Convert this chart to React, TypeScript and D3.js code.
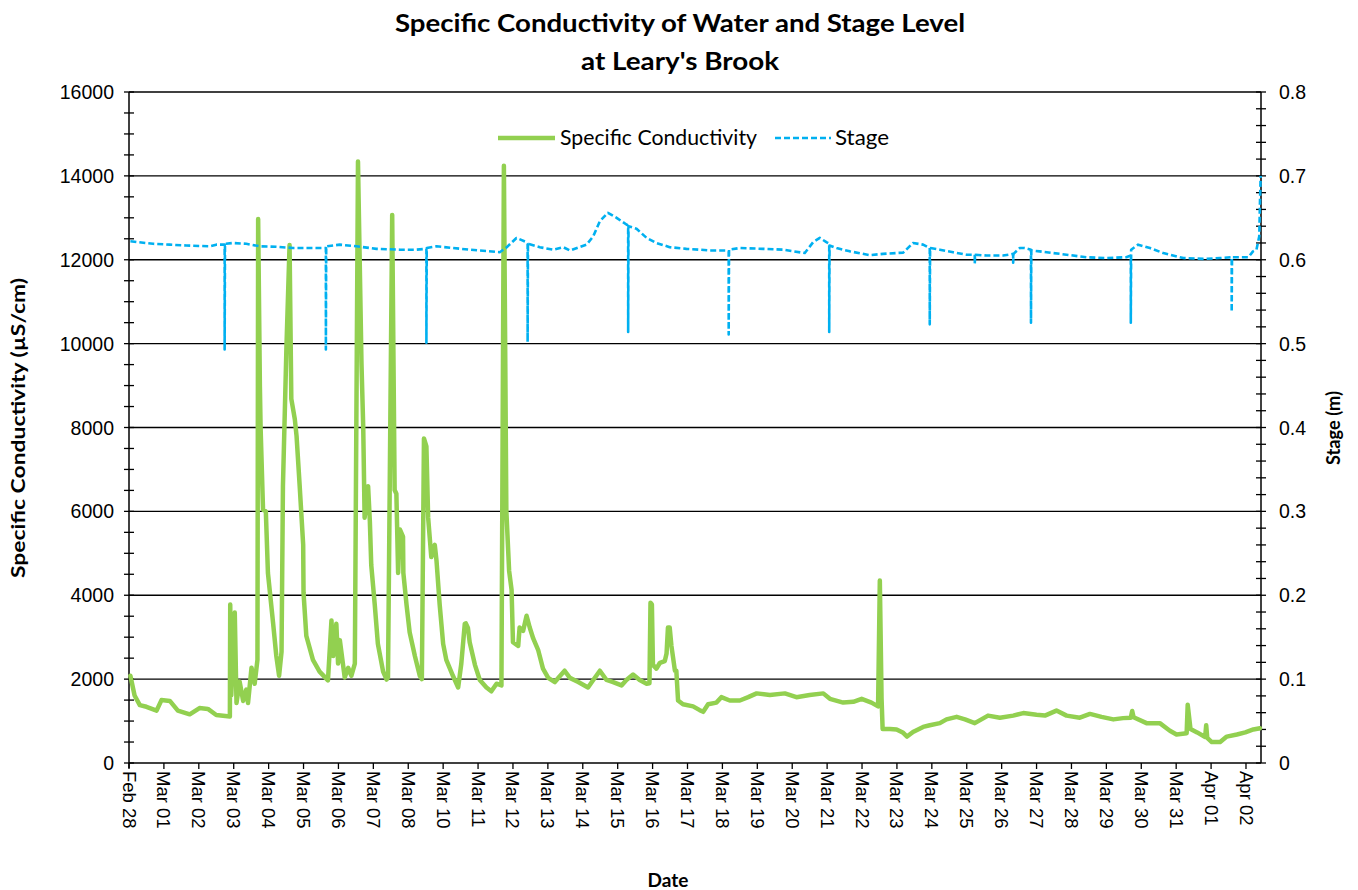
import React from 'react';
import * as d3 from 'd3';

// category labels shown on the x axis (one per day position, Mar 09 is not labelled)
const dateLabels = [
  'Feb 28', 'Mar 01', 'Mar 02', 'Mar 03', 'Mar 04', 'Mar 05', 'Mar 06', 'Mar 07', 'Mar 08',
  'Mar 10', 'Mar 11', 'Mar 12', 'Mar 13', 'Mar 14', 'Mar 15', 'Mar 16', 'Mar 17', 'Mar 18',
  'Mar 19', 'Mar 20', 'Mar 21', 'Mar 22', 'Mar 23', 'Mar 24', 'Mar 25', 'Mar 26', 'Mar 27',
  'Mar 28', 'Mar 29', 'Mar 30', 'Mar 31', 'Apr 01', 'Apr 02',
];
const condTicks = [0, 2000, 4000, 6000, 8000, 10000, 12000, 14000, 16000];
const stageTicks = [0, 0.1, 0.2, 0.3, 0.4, 0.5, 0.6, 0.7, 0.8];

// [position in label units, µS/cm]
const conductivity: [number, number][] = [
  [0.04, 2080], [0.16, 1610], [0.31, 1380], [0.5, 1340], [0.79, 1250], [0.93, 1500], [1.17, 1480],
  [1.4, 1250], [1.74, 1160], [2.02, 1310], [2.26, 1290], [2.5, 1145], [2.89, 1110], [2.9, 3780],
  [2.93, 1610], [3.03, 3590], [3.08, 1430], [3.17, 1940], [3.27, 1480], [3.36, 1750], [3.41, 1430],
  [3.51, 2270], [3.6, 1890], [3.68, 2460], [3.7, 12970], [3.75, 8970], [3.77, 8000], [3.84, 6040],
  [3.92, 6000], [3.98, 4530], [4.13, 3320], [4.22, 2550], [4.3, 2080], [4.37, 2650], [4.41, 6600],
  [4.51, 9900], [4.6, 12350], [4.65, 8680], [4.75, 8200], [4.8, 7800], [4.89, 6600], [4.99, 5200],
  [5.0, 4060], [5.08, 3030], [5.27, 2460], [5.46, 2180], [5.7, 1970], [5.8, 3400], [5.85, 2550],
  [5.94, 3320], [5.99, 2370], [6.04, 2930], [6.18, 2040], [6.28, 2270], [6.37, 2080], [6.47, 2370],
  [6.56, 14340], [6.66, 9530], [6.71, 8020], [6.75, 5850], [6.85, 6600], [6.9, 5760], [6.94, 4720],
  [7.04, 3780], [7.13, 2840], [7.28, 2180], [7.38, 1990], [7.42, 2040], [7.54, 13070], [7.61, 6510],
  [7.66, 6420], [7.71, 4530], [7.76, 5570], [7.85, 5400], [7.86, 4530], [7.95, 3780], [8.04, 3120],
  [8.19, 2550], [8.33, 2080], [8.39, 2000], [8.45, 7740], [8.52, 7550], [8.57, 5850], [8.66, 4910],
  [8.76, 5200], [8.81, 4820], [8.9, 3780], [9.0, 2840], [9.09, 2460], [9.28, 2080], [9.43, 1800],
  [9.52, 2370], [9.62, 3320], [9.65, 3330], [9.71, 3220], [9.76, 2880], [9.91, 2340], [10.05, 1980],
  [10.24, 1800], [10.38, 1710], [10.53, 1890], [10.67, 1850], [10.74, 14240], [10.81, 6020],
  [10.89, 4580], [10.96, 4130], [11.0, 2880], [11.15, 2790], [11.19, 3230], [11.29, 3150],
  [11.39, 3510], [11.48, 3230], [11.58, 2970], [11.72, 2700], [11.86, 2250], [12.01, 2030],
  [12.2, 1930], [12.34, 2070], [12.48, 2200], [12.63, 2030], [12.87, 1930], [13.15, 1800],
  [13.3, 1980], [13.49, 2200], [13.68, 1980], [13.87, 1930], [14.11, 1850], [14.25, 1980],
  [14.44, 2110], [14.63, 1980], [14.83, 1890], [14.91, 1900], [14.94, 3820], [14.98, 3780],
  [15.01, 2340], [15.11, 2250], [15.21, 2390], [15.35, 2430], [15.4, 2610], [15.44, 3230],
  [15.49, 3230], [15.54, 2790], [15.64, 2200], [15.68, 2200], [15.73, 1490], [15.87, 1400],
  [16.16, 1350], [16.35, 1260], [16.45, 1220], [16.59, 1400], [16.83, 1440], [16.97, 1570],
  [17.21, 1490], [17.5, 1490], [17.74, 1570], [17.98, 1660], [18.36, 1620], [18.79, 1660],
  [19.12, 1570], [19.5, 1620], [19.89, 1660], [20.08, 1530], [20.46, 1440], [20.75, 1460],
  [20.99, 1530], [21.27, 1440], [21.46, 1350], [21.51, 4350], [21.56, 1530], [21.59, 810],
  [21.8, 810], [21.99, 800], [22.18, 720], [22.29, 630], [22.46, 740], [22.75, 860], [22.94, 900],
  [23.23, 950], [23.42, 1040], [23.71, 1100], [23.95, 1040], [24.23, 950], [24.61, 1130],
  [24.95, 1080], [25.33, 1130], [25.62, 1190], [26.0, 1150], [26.24, 1130], [26.57, 1250],
  [26.86, 1130], [27.24, 1080], [27.53, 1170], [27.86, 1100], [28.2, 1040], [28.48, 1070],
  [28.7, 1080], [28.74, 1240], [28.78, 1090], [29.15, 950], [29.53, 950], [29.82, 770],
  [30.01, 680], [30.3, 710], [30.33, 1390], [30.41, 810], [30.6, 730], [30.83, 620], [30.86, 900],
  [30.89, 600], [31.02, 500], [31.26, 500], [31.45, 630], [31.74, 680], [31.98, 730], [32.21, 800],
  [32.4, 830],
];

// [position in label units, m]
const stage: [number, number][] = [
  [0.04, 0.622], [0.69, 0.619], [1.17, 0.618], [1.64, 0.617], [2.31, 0.616], [2.5, 0.618],
  [2.74, 0.618], [2.74, 0.493], [2.75, 0.619], [2.98, 0.62], [3.36, 0.619], [3.75, 0.616],
  [4.22, 0.6155], [4.7, 0.614], [5.18, 0.614], [5.64, 0.614], [5.64, 0.493], [5.65, 0.616],
  [6.04, 0.618], [6.52, 0.616], [7.09, 0.613], [7.76, 0.612], [8.23, 0.612], [8.52, 0.613],
  [8.52, 0.501], [8.53, 0.614], [8.81, 0.616], [9.28, 0.614], [9.76, 0.612], [10.05, 0.611],
  [10.62, 0.609], [10.81, 0.6144], [11.1, 0.626], [11.39, 0.621], [11.42, 0.619], [11.42, 0.502],
  [11.43, 0.619], [11.77, 0.615], [12.15, 0.612], [12.44, 0.615], [12.63, 0.611], [13.11, 0.618],
  [13.3, 0.628], [13.49, 0.646], [13.72, 0.656], [13.97, 0.65], [14.25, 0.642], [14.3, 0.641],
  [14.3, 0.514], [14.31, 0.64], [14.54, 0.637], [14.83, 0.626], [15.11, 0.62], [15.49, 0.615],
  [15.97, 0.613], [16.35, 0.612], [16.64, 0.611], [17.12, 0.611], [17.18, 0.61], [17.18, 0.511],
  [17.19, 0.612], [17.5, 0.614], [18.17, 0.613], [18.74, 0.612], [19.36, 0.608], [19.6, 0.621],
  [19.79, 0.626], [19.98, 0.621], [20.06, 0.619], [20.06, 0.514], [20.07, 0.617], [20.27, 0.614],
  [20.65, 0.61], [21.22, 0.6055], [21.6, 0.607], [22.18, 0.6085], [22.46, 0.62], [22.75, 0.618],
  [22.89, 0.615], [22.94, 0.614], [22.94, 0.523], [22.95, 0.614], [23.23, 0.612], [23.61, 0.609],
  [23.99, 0.606], [24.23, 0.606], [24.23, 0.5955], [24.24, 0.606], [24.57, 0.605], [25.04, 0.605],
  [25.33, 0.607], [25.33, 0.5965], [25.34, 0.607], [25.52, 0.614], [25.66, 0.614], [25.84, 0.612],
  [25.84, 0.525], [25.85, 0.611], [26.09, 0.61], [26.67, 0.607], [27.43, 0.603], [28.0, 0.602],
  [28.57, 0.603], [28.7, 0.605], [28.7, 0.525], [28.71, 0.612], [28.91, 0.618], [29.25, 0.614],
  [29.63, 0.608], [30.21, 0.602], [30.78, 0.601], [31.25, 0.602], [31.59, 0.603], [31.59, 0.538],
  [31.6, 0.603], [31.83, 0.603], [32.07, 0.603], [32.2, 0.61], [32.3, 0.612], [32.38, 0.628],
  [32.4, 0.668], [32.42, 0.7],
];

const W = 1358;
const H = 890;
const left = 129;
const right = 1261;
const top = 92;
const bottom = 763;

const green = '#92D050';
const blue = '#00B0F0';
const labelFont = '"Liberation Sans", Arial, sans-serif';
const titleFont = 'Lato, "Open Sans", sans-serif';

export default function App() {
  const x = d3.scaleLinear().domain([0, 32.43]).range([left, right]);
  const yL = d3.scaleLinear().domain([0, 16000]).range([bottom, top]);
  const yR = d3.scaleLinear().domain([0, 0.8]).range([bottom, top]);

  const condLine = d3.line<[number, number]>().x(d => x(d[0])).y(d => yL(d[1]));
  const stageLine = d3.line<[number, number]>().x(d => x(d[0])).y(d => yR(d[1]));

  const minorL = yL.ticks(40);
  const minorR = yR.ticks(40);

  return (
    <svg width={W} height={H} style={{ position: 'absolute', left: 0, top: 0, background: '#fff' }}>
      {/* title */}
      <text x={680} y={32} textAnchor="middle" fontFamily={titleFont} fontWeight="bold" fontSize={25}
        textLength={570} lengthAdjust="spacingAndGlyphs">
        Specific Conductivity of Water and Stage Level
      </text>
      <text x={680} y={70} textAnchor="middle" fontFamily={titleFont} fontWeight="bold" fontSize={25}
        textLength={198} lengthAdjust="spacingAndGlyphs">
        at Leary's Brook
      </text>

      {/* gridlines */}
      {condTicks.filter(t => t > 0).map(t => (
        <line key={t} x1={left} x2={right} y1={yL(t)} y2={yL(t)} stroke="#000" strokeWidth={1.3} />
      ))}

      {/* left axis */}
      <line x1={left} x2={left} y1={top} y2={bottom + 5} stroke="#000" strokeWidth={1.5} />
      {minorL.map(t => (
        <line key={t} x1={left - 5} x2={left + 5} y1={yL(t)} y2={yL(t)} stroke="#000" strokeWidth={1.3} />
      ))}
      {condTicks.map(t => (
        <text key={t} x={114} y={yL(t)} dy="0.36em" textAnchor="end" fontFamily={labelFont} fontSize={19.5}>
          {t}
        </text>
      ))}

      {/* right axis */}
      <line x1={right} x2={right} y1={top} y2={bottom} stroke="#000" strokeWidth={1.5} />
      {minorR.map(t => (
        <line key={t} x1={right - 5} x2={right + 5} y1={yR(t)} y2={yR(t)} stroke="#000" strokeWidth={1.3} />
      ))}
      {stageTicks.map(t => (
        <text key={t} x={1279} y={yR(t)} dy="0.36em" textAnchor="start" fontFamily={labelFont} fontSize={19.5}>
          {t}
        </text>
      ))}

      {/* bottom axis */}
      <line x1={left} x2={right} y1={bottom} y2={bottom} stroke="#000" strokeWidth={1.5} />
      {dateLabels.map((l, i) => (
        <g key={l} transform={`translate(${x(i)},0)`}>
          <line y1={bottom} y2={bottom + 6} stroke="#000" strokeWidth={1.3} />
          <text
            transform={`translate(0,${bottom + 8}) rotate(90)`}
            dy="0.35em"
            fontFamily={labelFont}
            fontSize={18.5}
          >
            {l}
          </text>
        </g>
      ))}

      {/* series */}
      <path d={condLine(conductivity) ?? ''} fill="none" stroke={green} strokeWidth={4.5} strokeLinejoin="round" strokeLinecap="round" />
      <path d={stageLine(stage) ?? ''} fill="none" stroke={blue} strokeWidth={2.6} strokeDasharray="6,3" strokeLinejoin="round" />

      {/* legend */}
      <line x1={498} x2={555} y1={138} y2={138} stroke={green} strokeWidth={4.5} />
      <text x={560} y={138} dy="0.35em" fontFamily={titleFont} fontSize={21}
        textLength={197} lengthAdjust="spacingAndGlyphs">Specific Conductivity</text>
      <line x1={775} x2={831} y1={138} y2={138} stroke={blue} strokeWidth={2.6} strokeDasharray="6,3" />
      <text x={835} y={138} dy="0.35em" fontFamily={titleFont} fontSize={21}
        textLength={54} lengthAdjust="spacingAndGlyphs">Stage</text>

      {/* axis titles */}
      <text transform="translate(25,428) rotate(-90)" textAnchor="middle" fontFamily={titleFont} fontWeight="bold" fontSize={19}
        textLength={300} lengthAdjust="spacingAndGlyphs">
        Specific Conductivity (µS/cm)
      </text>
      <text transform="translate(1340,428) rotate(-90)" textAnchor="middle" fontFamily={titleFont} fontWeight="bold" fontSize={19}
        textLength={74} lengthAdjust="spacingAndGlyphs">
        Stage (m)
      </text>
      <text x={668} y={887} textAnchor="middle" fontFamily={titleFont} fontWeight="bold" fontSize={19}>
        Date
      </text>
    </svg>
  );
}
